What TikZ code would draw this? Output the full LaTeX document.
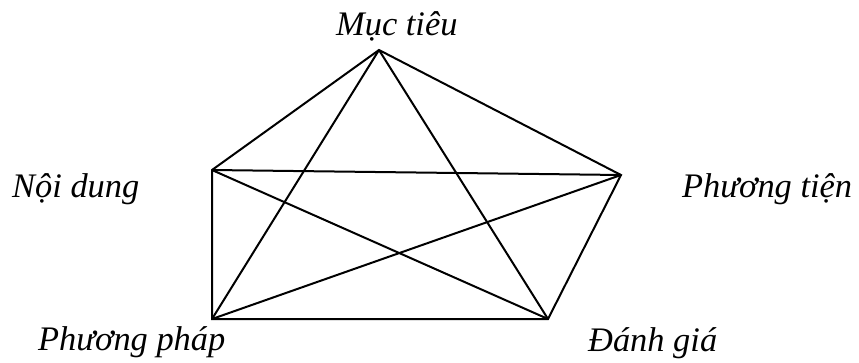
\documentclass[tikz,border=0pt]{standalone}
\usepackage{fontspec}
\setmainfont{Liberation Serif}
\begin{document}
\begin{tikzpicture}[x=1pt,y=-1pt,
  edge/.style={line width=2pt,line join=miter},
  lbl/.style={anchor=base west,inner sep=0pt,font=\fontsize{34.4}{40}\selectfont\itshape}]
\useasboundingbox (0,0) rectangle (859,362);
\coordinate (T) at (379,50);
\coordinate (L) at (212,170);
\coordinate (R) at (621,175);
\coordinate (BL) at (212,319);
\coordinate (BR) at (548,319);
\draw[edge] (T) -- (L) -- (BL) -- (BR) -- (R) -- cycle;
\draw[edge] (T) -- (BL);
\draw[edge] (T) -- (BR);
\draw[edge] (L) -- (R);
\draw[edge] (L) -- (BR);
\draw[edge] (R) -- (BL);
\node[lbl] (mt) at (336,35) {Mục tiêu};
\node[lbl] (nd) at (12,197) {Nội dung};
\node[lbl] (pt) at (682,197) {Phương tiện};
\node[lbl] (pp) at (38,350) {Phương pháp};
\node[lbl] (dg) at (588,351) {Đánh giá};
\end{tikzpicture}
\end{document}
